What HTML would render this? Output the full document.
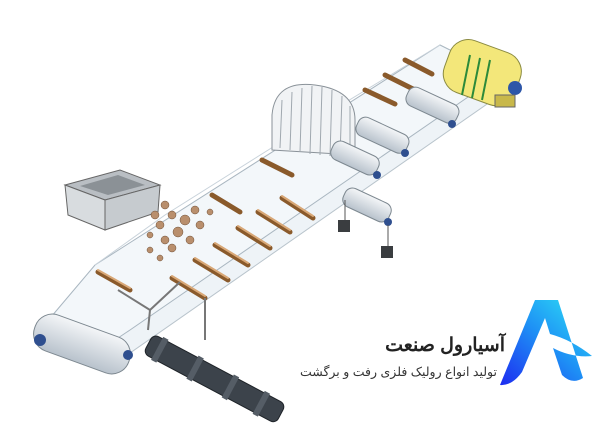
<!DOCTYPE html>
<html><head><meta charset="utf-8"><style>
html,body{margin:0;padding:0;background:#fff;width:601px;height:429px;overflow:hidden;position:relative}
svg{display:block}
.t{position:absolute;direction:rtl;font-family:"Liberation Sans","Noto Sans CJK SC",sans-serif;white-space:nowrap;text-align:right;color:#222}
</style></head><body>
<svg width="601" height="429" viewBox="0 0 601 429" xmlns="http://www.w3.org/2000/svg">
<defs>
<linearGradient id="lg" x1="0" y1="1" x2="1" y2="0">
<stop offset="0" stop-color="#1d2cf0"/><stop offset="0.5" stop-color="#1e8ff5"/><stop offset="1" stop-color="#2ee6f5"/>
</linearGradient>
<linearGradient id="drum" x1="0" y1="0" x2="0" y2="1">
<stop offset="0" stop-color="#f4f6f8"/><stop offset="1" stop-color="#b8c2cc"/>
</linearGradient>
</defs>
<polygon points="60,355 120,360 500,95 470,85" fill="#eef3f7" stroke="#b9c4cc" stroke-width="1"/>
<polygon points="40,330 95,265 440,45 500,75 130,330 100,350" fill="#f3f7fa" stroke="#a9b6c0" stroke-width="1"/>
<polyline points="95,265 165,215 300,130 440,45" fill="none" stroke="#c8d2da"/>
<polygon points="65,185 120,170 160,185 105,200" fill="#b9bec3" stroke="#666"/>
<polygon points="65,185 105,200 105,230 68,215" fill="#d8dcdf" stroke="#666"/>
<polygon points="105,200 160,185 158,212 105,230" fill="#c6cbcf" stroke="#666"/>
<polygon points="80,186 118,175 145,185 108,195" fill="#8b9196"/>
<g fill="#b98f6d" stroke="#6d4f37" stroke-width="0.5">
<circle cx="155" cy="215" r="4"/><circle cx="165" cy="205" r="4"/><circle cx="172" cy="215" r="4"/><circle cx="160" cy="225" r="4"/>
<circle cx="185" cy="220" r="5"/><circle cx="195" cy="210" r="4"/><circle cx="178" cy="232" r="5"/><circle cx="165" cy="240" r="4"/>
<circle cx="200" cy="225" r="4"/><circle cx="190" cy="240" r="4"/><circle cx="150" cy="235" r="3"/><circle cx="172" cy="248" r="4"/>
<circle cx="150" cy="250" r="3"/><circle cx="160" cy="258" r="3"/><circle cx="210" cy="212" r="3"/>
</g>
<g stroke="#8a5a2b" stroke-width="5" stroke-linecap="round">
<line x1="98" y1="272" x2="130" y2="290"/>
<line x1="172" y1="278" x2="205" y2="298"/>
<line x1="195" y1="260" x2="228" y2="280"/>
<line x1="215" y1="245" x2="248" y2="265"/>
<line x1="238" y1="228" x2="270" y2="248"/>
<line x1="258" y1="212" x2="290" y2="232"/>
<line x1="282" y1="198" x2="313" y2="218"/>
<line x1="212" y1="195" x2="240" y2="212"/>
<line x1="262" y1="160" x2="292" y2="175"/>
<line x1="365" y1="90" x2="395" y2="104"/>
<line x1="385" y1="75" x2="415" y2="90"/>
<line x1="405" y1="60" x2="432" y2="74"/>
</g>
<g stroke="#d9a877" stroke-width="2" stroke-linecap="round">
<line x1="98" y1="270" x2="130" y2="288"/>
<line x1="172" y1="276" x2="205" y2="296"/>
<line x1="195" y1="258" x2="228" y2="278"/>
<line x1="215" y1="243" x2="248" y2="263"/>
<line x1="238" y1="226" x2="270" y2="246"/>
<line x1="258" y1="210" x2="290" y2="230"/>
<line x1="282" y1="196" x2="313" y2="216"/>
</g>
<g stroke="#777" stroke-width="2" fill="none">
<polyline points="118,290 150,310 180,282"/>
<line x1="150" y1="310" x2="148" y2="330"/>
<line x1="205" y1="298" x2="205" y2="340"/>
</g>
<path d="M272,150 L272,115 Q275,80 315,85 Q355,90 355,120 L355,155 Z" fill="#f1f3f5" stroke="#8a9299"/>
<g stroke="#a0a8af" stroke-width="1">
<line x1="280" y1="148" x2="282" y2="100"/><line x1="290" y1="150" x2="292" y2="92"/><line x1="300" y1="152" x2="302" y2="88"/>
<line x1="310" y1="154" x2="312" y2="86"/><line x1="320" y1="155" x2="322" y2="87"/><line x1="330" y1="156" x2="332" y2="90"/>
<line x1="340" y1="156" x2="342" y2="96"/><line x1="350" y1="156" x2="350" y2="106"/>
</g>
<g fill="url(#drum)" stroke="#7d8890">
<rect x="330" y="148" width="50" height="20" rx="8" transform="rotate(25 355 158)"/>
<rect x="355" y="125" width="55" height="20" rx="8" transform="rotate(25 382 135)"/>
<rect x="405" y="95" width="55" height="20" rx="8" transform="rotate(25 432 105)"/>
<rect x="342" y="195" width="50" height="20" rx="8" transform="rotate(25 367 205)"/>
</g>
<g fill="#2f4f8f"><circle cx="377" cy="175" r="4"/><circle cx="405" cy="153" r="4"/><circle cx="452" cy="124" r="4"/><circle cx="388" cy="222" r="4"/></g>
<line x1="345" y1="200" x2="345" y2="222" stroke="#555"/><line x1="388" y1="225" x2="388" y2="248" stroke="#555"/>
<rect x="338" y="220" width="12" height="12" fill="#3a3d40"/><rect x="381" y="246" width="12" height="12" fill="#3a3d40"/>
<rect x="445" y="45" width="75" height="55" rx="20" fill="#f3e77a" stroke="#8a8a40" transform="rotate(20 482 72)"/>
<g stroke="#2c8a3a" stroke-width="2"><line x1="470" y1="55" x2="462" y2="95"/><line x1="480" y1="58" x2="472" y2="98"/><line x1="490" y1="60" x2="482" y2="100"/></g>
<circle cx="515" cy="88" r="7" fill="#2d56a8"/>
<rect x="495" y="95" width="20" height="12" fill="#c8b84a" stroke="#666"/>
<rect x="32" y="325" width="100" height="38" rx="18" fill="url(#drum)" stroke="#7d8890" transform="rotate(20 82 344)"/>
<circle cx="40" cy="340" r="6" fill="#2f4f8f"/><circle cx="128" cy="355" r="5" fill="#2f4f8f"/>
<g transform="rotate(28 215 378)">
<rect x="140" y="368" width="150" height="22" rx="6" fill="#3c434b" stroke="#1e2328"/>
<rect x="150" y="366" width="6" height="26" fill="#555d66"/><rect x="190" y="366" width="6" height="26" fill="#555d66"/>
<rect x="230" y="366" width="6" height="26" fill="#555d66"/><rect x="265" y="366" width="6" height="26" fill="#555d66"/>
</g>
<path d="M500,385 L535,300 L558,300 L583,378 Q572,385 562,375 L553,348 Q572,358 592,356 Q572,340 550,334 L545,318 L522,372 Q512,386 500,385 Z" fill="url(#lg)"/>
</svg>
<div class="t" style="right:96px;top:334px;font-size:19px;font-weight:bold;">آسیارول صنعت</div>
<div class="t" style="right:104px;top:364px;font-size:12.5px;color:#333;">تولید انواع رولیک فلزی رفت و برگشت</div>
</body></html>
